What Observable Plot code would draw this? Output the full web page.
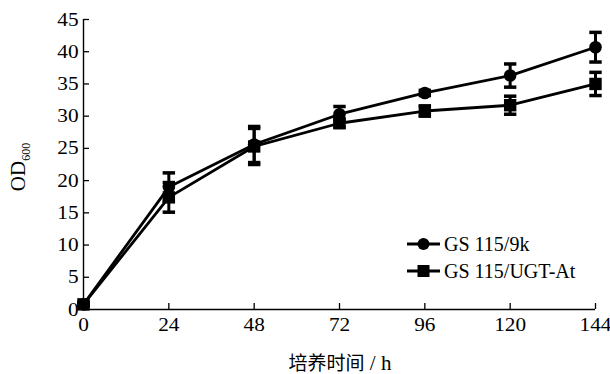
<!DOCTYPE html>
<html>
<head>
<meta charset="utf-8">
<script src="https://cdn.jsdelivr.net/npm/d3@7"></script>
<script src="https://cdn.jsdelivr.net/npm/@observablehq/plot@0.6"></script>
<style>
  html, body { margin: 0; padding: 0; background: #fff; }
  #chart { position: relative; width: 610px; height: 374px; }
</style>
</head>
<body>
<div id="chart"></div>
<script>
const hours = [0, 24, 48, 72, 96, 120, 144];
const series9k = [0.8, 19.0, 25.6, 30.3, 33.6, 36.3, 40.7];
const err9k = [0.3, 2.2, 2.8, 1.2, 0.4, 1.8, 2.3];
const seriesUGT = [0.8, 17.4, 25.3, 28.9, 30.8, 31.7, 35.0];
const errUGT = [0.3, 2.3, 2.8, 0.6, 0.8, 1.4, 1.8];
const seriesNames = ["GS 115/9k", "GS 115/UGT-At"];
const xTicks = [0, 24, 48, 72, 96, 120, 144];
const yTicks = [0, 5, 10, 15, 20, 25, 30, 35, 40, 45];
const xLabelCJK = "培养时间";
const xLabelUnit = " / h";
const yLabelMain = "OD";
const yLabelSub = "600";

const rows = [];
hours.forEach((h, i) => {
  rows.push({series: seriesNames[0], x: h, y: series9k[i], e: err9k[i]});
  rows.push({series: seriesNames[1], x: h, y: seriesUGT[i], e: errUGT[i]});
});
const s9 = rows.filter(d => d.series === seriesNames[0]);
const sU = rows.filter(d => d.series === seriesNames[1]);

const capSymbol = {
  draw(ctx, size) {
    const r = Math.sqrt(size) / 2;
    ctx.moveTo(-r, 0);
    ctx.lineTo(r, 0);
  }
};

const serif = "'Liberation Serif', 'Times New Roman', serif";
const cjk = "'Noto Sans CJK SC', 'Liberation Serif', serif";

const plot = Plot.plot({
  width: 610,
  height: 374,
  marginLeft: 83,
  marginRight: 15,
  marginTop: 19,
  marginBottom: 65,
  style: {background: "#fff", overflow: "visible"},
  x: {domain: [0, 144], ticks: xTicks, label: null},
  y: {domain: [0, 45], ticks: yTicks, label: null},
  marks: [
    Plot.axisX({ticks: xTicks, tickSize: -6, tickFormat: () => "", stroke: "#000", strokeWidth: 1.3}),
    Plot.axisX({ticks: xTicks, tickSize: 0, tickPadding: 8, fontSize: 19, fill: "#000", fontFamily: serif}),
    Plot.axisY({ticks: yTicks, tickSize: -6, tickFormat: () => "", stroke: "#000", strokeWidth: 1.3}),
    Plot.axisY({ticks: yTicks, tickSize: 0, tickPadding: 5, fontSize: 19, fill: "#000", fontFamily: serif}),
    Plot.ruleY([0], {stroke: "#000", strokeWidth: 1.4}),
    Plot.ruleX([0], {stroke: "#000", strokeWidth: 1.4}),
    // error bars
    Plot.ruleX(rows, {x: "x", y1: d => d.y - d.e, y2: d => d.y + d.e, stroke: "#000", strokeWidth: 3}),
    Plot.dot(rows, {x: "x", y: d => d.y + d.e, symbol: capSymbol, r: 7, stroke: "#000", strokeWidth: 3.5}),
    Plot.dot(rows, {x: "x", y: d => d.y - d.e, symbol: capSymbol, r: 7, stroke: "#000", strokeWidth: 3.5}),
    // lines
    Plot.line(s9, {x: "x", y: "y", stroke: "#000", strokeWidth: 2.8}),
    Plot.line(sU, {x: "x", y: "y", stroke: "#000", strokeWidth: 2.8}),
    // markers
    Plot.dot(s9, {x: "x", y: "y", symbol: "circle", r: 6.3, fill: "#000", stroke: "none"}),
    Plot.dot(sU, {x: "x", y: "y", symbol: "square", r: 7, fill: "#000", stroke: "none"})
  ]
});

const container = document.getElementById("chart");
container.appendChild(plot);

const svg = d3.select(plot);
svg.selectAll("text").style("font-family", serif).style("font-variant", "normal");
// widen tick labels slightly, like the reference's stretched type
svg.selectAll("text").each(function() {
  if (!this.textContent) return;
  const w = this.getComputedTextLength();
  if (w > 0) {
    this.setAttribute("textLength", (w * 1.12).toFixed(2));
    this.setAttribute("lengthAdjust", "spacingAndGlyphs");
  }
});

// x axis label
const xl = svg.append("text")
  .attr("x", 340)
  .attr("y", 370)
  .attr("text-anchor", "middle")
  .style("font-size", "19px")
  .attr("fill", "#000");
xl.append("tspan").style("font-family", cjk).style("font-size", "19px").text(xLabelCJK);
xl.append("tspan").style("font-family", serif).style("font-size", "21px").text(xLabelUnit);

// y axis label with subscript
const yl = svg.append("text")
  .attr("transform", "translate(25,167) rotate(-90)")
  .attr("text-anchor", "middle")
  .style("font-family", serif)
  .style("font-size", "21px")
  .attr("fill", "#000");
yl.append("tspan").text(yLabelMain);
yl.append("tspan").attr("dy", "5").style("font-size", "12px").text(yLabelSub);

// legend
const legend = svg.append("g").attr("transform", "translate(407,0)");
const legY = [244, 271];
seriesNames.forEach((name, i) => {
  const g = legend.append("g").attr("transform", `translate(0,${legY[i]})`);
  g.append("line").attr("x1", 0).attr("x2", 33).attr("y1", 0).attr("y2", 0)
    .attr("stroke", "#000").attr("stroke-width", 2.8);
  if (i === 0) {
    g.append("circle").attr("cx", 16.5).attr("cy", 0).attr("r", 6).attr("fill", "#000");
  } else {
    g.append("rect").attr("x", 10.5).attr("y", -6).attr("width", 12).attr("height", 12).attr("fill", "#000");
  }
  g.append("text").attr("x", 37).attr("y", 6.5)
    .attr("text-anchor", "start")
    .style("font-family", serif)
    .style("font-size", "20px").attr("fill", "#000")
    .text(name);
});
</script>
</body>
</html>
